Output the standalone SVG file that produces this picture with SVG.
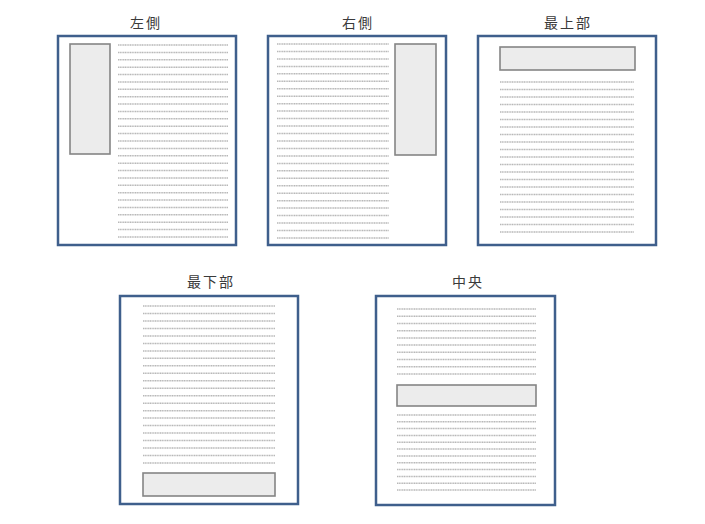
<svg xmlns="http://www.w3.org/2000/svg" width="705" height="524" viewBox="0 0 705 524">
<style>
.page{fill:#ffffff;stroke:#3f5f8c;stroke-width:2.5}
.blk{fill:#ececec;stroke:#858585;stroke-width:1.6}
.txt{stroke:#b8b8b8;stroke-width:1.5;stroke-dasharray:1.2 0.5;fill:none}
.lbl{font-family:"Noto Sans CJK JP","Noto Sans CJK SC",sans-serif;font-size:14px;fill:#3a3a3a;text-anchor:middle;letter-spacing:2px}
</style>
<rect width="705" height="524" fill="#ffffff"/>
<g id="left">
<text class="lbl" x="146" y="28">左側</text>
<rect class="page" x="58" y="36" width="178" height="209"/>
<rect class="blk" x="70" y="44" width="40" height="110"/>
<path class="txt" d="M118 45H228M118 52.4H228M118 59.8H228M118 67.2H228M118 74.5H228M118 81.9H228M118 89.3H228M118 96.7H228M118 104.1H228M118 111.5H228M118 118.8H228M118 126.2H228M118 133.6H228M118 141H228M118 148.4H228M118 155.8H228M118 163.2H228M118 170.5H228M118 177.9H228M118 185.3H228M118 192.7H228M118 200.1H228M118 207.5H228M118 214.8H228M118 222.2H228M118 229.6H228M118 237H228"/>
</g>
<g id="right">
<text class="lbl" x="358" y="28">右側</text>
<rect class="page" x="268" y="36" width="178" height="209"/>
<rect class="blk" x="395" y="44" width="41" height="111"/>
<path class="txt" d="M277 44H389M277 51.5H389M277 58.9H389M277 66.4H389M277 73.8H389M277 81.3H389M277 88.8H389M277 96.2H389M277 103.7H389M277 111.1H389M277 118.6H389M277 126.1H389M277 133.5H389M277 141H389M277 148.4H389M277 155.9H389M277 163.4H389M277 170.8H389M277 178.3H389M277 185.7H389M277 193.2H389M277 200.7H389M277 208.1H389M277 215.6H389M277 223H389M277 230.5H389M277 238H389"/>
</g>
<g id="top">
<text class="lbl" x="568" y="28">最上部</text>
<rect class="page" x="478" y="36" width="178" height="209"/>
<rect class="blk" x="500" y="47" width="135" height="23"/>
<path class="txt" d="M500 82H634M500 89.5H634M500 97H634M500 104.5H634M500 112H634M500 119.5H634M500 127H634M500 134.5H634M500 142H634M500 149.5H634M500 157H634M500 164.5H634M500 172H634M500 179.5H634M500 187H634M500 194.5H634M500 202H634M500 209.5H634M500 217H634M500 224.5H634M500 232H634"/>
</g>
<g id="bottom">
<text class="lbl" x="211" y="287">最下部</text>
<rect class="page" x="120" y="296" width="178" height="208"/>
<rect class="blk" x="143" y="473" width="132" height="23"/>
<path class="txt" d="M143 306H275M143 313.5H275M143 321H275M143 328.4H275M143 335.9H275M143 343.4H275M143 350.9H275M143 358.3H275M143 365.8H275M143 373.3H275M143 380.8H275M143 388.2H275M143 395.7H275M143 403.2H275M143 410.7H275M143 418.1H275M143 425.6H275M143 433.1H275M143 440.6H275M143 448H275M143 455.5H275M143 463H275"/>
</g>
<g id="center">
<text class="lbl" x="468" y="287">中央</text>
<rect class="page" x="376" y="296" width="179" height="209"/>
<rect class="blk" x="397" y="385" width="139" height="21"/>
<path class="txt" d="M397 309H536M397 316.2H536M397 323.4H536M397 330.7H536M397 337.9H536M397 345.1H536M397 352.3H536M397 359.5H536M397 366.8H536M397 374H536M397 415H536M397 421.8H536M397 428.6H536M397 435.5H536M397 442.3H536M397 449.1H536M397 455.9H536M397 462.7H536M397 469.6H536M397 476.4H536M397 483.2H536M397 490H536"/>
</g>
</svg>
